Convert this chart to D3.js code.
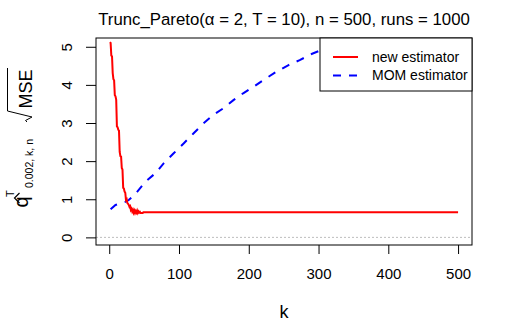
<!DOCTYPE html>
<html>
<head>
<meta charset="utf-8">
<script src="https://d3js.org/d3.v7.min.js"></script>
<style>
  body { margin: 0; background: #fff; }
  text { font-family: "Liberation Sans", Arial, sans-serif; }
</style>
</head>
<body>
<div id="chart"></div>
<script>
// new estimator (red)
var newK = [1,2,3,4,5,6,7,8,9,10,11,12,13,14,15,16,17,18,19,20,21,22,23,24,25,26,27,28,29,30,
            31,32,33,34,35,36,37,38,39,40,41,42,43,44,45,46,47,48,49,50,500];
var newV = [5.12,5.10,4.77,4.75,4.31,4.15,4.12,3.73,3.70,3.61,2.91,2.89,2.82,2.80,2.24,2.13,2.12,1.82,1.78,1.30,
            1.28,1.20,1.17,0.98,1.00,0.90,0.88,0.85,0.80,0.82,0.72,0.75,0.68,0.72,0.65,0.70,0.64,0.69,0.65,0.70,
            0.64,0.68,0.65,0.67,0.64,0.64,0.64,0.64,0.66,0.66,0.66];
// MOM estimator (blue dashed); part beyond k=300 lies under the legend
var momK = [2,9,23,28,38,52,66,78,92,107,121,135,149,164,178,192,207,223,240,257,273,290,302,320,340];
var momV = [0.74,0.85,0.93,0.98,1.15,1.46,1.68,1.94,2.20,2.47,2.73,2.99,3.21,3.39,3.60,3.78,3.95,4.15,4.35,4.52,4.65,4.81,4.90,5.03,5.15];

var xTicks = [0,100,200,300,400,500];
var yTicks = [0,1,2,3,4,5];

var W = 510, H = 322;
var box = {left: 96, right: 472, top: 38, bottom: 245};

var svg = d3.select("#chart").append("svg")
    .attr("width", W).attr("height", H);

var x = d3.scaleLinear().domain([-18.96, 519.96]).range([box.left, box.right]);
var y = d3.scaleLinear().domain([-0.2, 5.23]).range([box.bottom, box.top]);

svg.append("clipPath").attr("id", "clip")
  .append("rect")
    .attr("x", box.left).attr("y", box.top)
    .attr("width", box.right - box.left).attr("height", box.bottom - box.top);

// zero reference line
svg.append("line")
    .attr("x1", box.left).attr("x2", box.right)
    .attr("y1", y(0)).attr("y2", y(0))
    .attr("stroke", "#bebebe").attr("stroke-dasharray", "2,2");

var line = d3.line().x(function(d) { return x(d[0]); }).y(function(d) { return y(d[1]); });

svg.append("path")
    .datum(d3.zip(momK, momV))
    .attr("clip-path", "url(#clip)")
    .attr("fill", "none").attr("stroke", "#0000ff").attr("stroke-width", 2)
    .attr("stroke-dasharray", "8,8")
    .attr("d", line);

svg.append("path")
    .datum(d3.zip(newK, newV))
    .attr("clip-path", "url(#clip)")
    .attr("fill", "none").attr("stroke", "#ff0000").attr("stroke-width", 2)
    .attr("d", line);

// axes
var xAxis = svg.append("g")
    .attr("transform", "translate(0," + box.bottom + ")")
    .call(d3.axisBottom(x).tickValues(xTicks).tickSize(9).tickPadding(14));
var yAxis = svg.append("g")
    .attr("transform", "translate(" + box.left + ",0)")
    .call(d3.axisLeft(y).tickValues(yTicks).tickFormat(d3.format("d")).tickSize(10));
[xAxis, yAxis].forEach(function(a) {
  a.select(".domain").remove();
  a.selectAll("line").attr("stroke", "#000");
  a.selectAll("text").attr("fill", "#000").style("font-size", "15px")
    .style("font-family", "'Liberation Sans', Arial, sans-serif");
});
yAxis.selectAll(".tick text")
    .attr("x", null).attr("dy", null)
    .attr("text-anchor", "middle")
    .attr("transform", "translate(-24,0) rotate(-90)");

// frame
svg.append("rect")
    .attr("x", box.left).attr("y", box.top)
    .attr("width", box.right - box.left).attr("height", box.bottom - box.top)
    .attr("fill", "none").attr("stroke", "#000");

// legend
var lg = svg.append("g");
lg.append("rect")
    .attr("x", 320).attr("y", box.top).attr("width", box.right - 320).attr("height", 53)
    .attr("fill", "#fff").attr("stroke", "#000");
var legendItems = [
  {label: "new estimator", color: "#ff0000", dash: null},
  {label: "MOM estimator", color: "#0000ff", dash: "8,8"}
];
legendItems.forEach(function(it, i) {
  var ly = 57 + i * 18.5;
  lg.append("line").attr("x1", 333).attr("x2", 358).attr("y1", ly).attr("y2", ly)
    .attr("stroke", it.color).attr("stroke-width", 2).attr("stroke-dasharray", it.dash);
  lg.append("text").attr("x", 372).attr("y", ly).attr("dy", "0.35em")
    .style("font-size", "14px").text(it.label);
});

// title
svg.append("text")
    .attr("x", (box.left + box.right) / 2).attr("y", 25)
    .attr("text-anchor", "middle").style("font-size", "16.8px")
    .text("Trunc_Pareto(\u03b1 = 2, T = 10), n = 500, runs = 1000");

// x label
svg.append("text").attr("x", (box.left + box.right) / 2).attr("y", 318)
    .attr("text-anchor", "middle").style("font-size", "18px").text("k");

// y label: hat q ^T _{0.002, k, n}  sqrt(MSE), rotated
var yl = svg.append("g").attr("transform", "rotate(-90)");
yl.append("text").attr("x", -207.5).attr("y", 28).style("font-size", "20px").text("q");
yl.append("path").attr("d", "M-203,19.5L-198,14.5L-193,19.5").attr("fill", "none")
    .attr("stroke", "#000").attr("stroke-width", 1.2);
yl.append("text").attr("x", -197).attr("y", 14).style("font-size", "11px").text("T");
yl.append("text").attr("x", -188).attr("y", 33).style("font-size", "10.5px").text("0.002, k, n");
yl.append("path").attr("d", "M-122,27L-120.5,25.5L-117,32L-111,7.5L-68,7.5")
    .attr("fill", "none").attr("stroke", "#000");
yl.append("text").attr("x", -108.5).attr("y", 31.7).style("font-size", "18px").text("MSE");
</script>
</body>
</html>
